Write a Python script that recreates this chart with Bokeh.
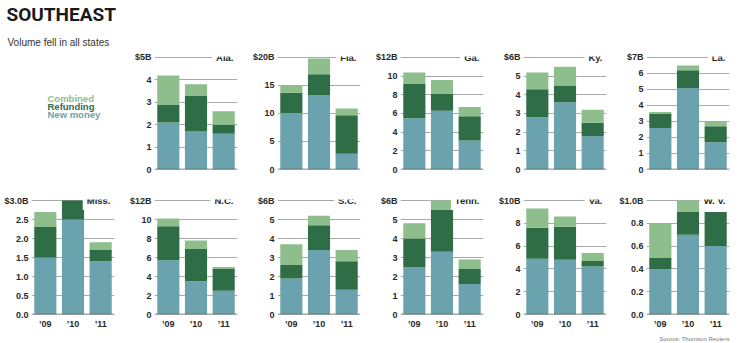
from bokeh.plotting import figure
from bokeh.models import (ColumnDataSource, FixedTicker, Label, Span, Range1d,
                          FactorRange, Title, PrintfTickFormatter)
from bokeh.layouts import row, column
from bokeh.embed import file_html
from bokeh.resources import INLINE

# ---------------- data ----------------
years = ["\u201909", "\u201910", "\u201911"]
series = ["new_money", "refunding", "combined"]
legend_labels = ["Combined", "Refunding", "New money"]

top_states = ["Ala.", "Fla.", "Ga.", "Ky.", "La."]
bottom_states = ["Miss.", "N.C.", "S.C.", "Tenn.", "Va.", "W. V."]

# $ billions, per year '09, '10, '11
new_money = {
    "Ala.": [2.1, 1.7, 1.6], "Fla.": [10.1, 13.3, 2.8], "Ga.": [5.5, 6.3, 3.1],
    "Ky.": [2.8, 3.6, 1.8], "La.": [2.6, 5.1, 1.7], "Miss.": [1.5, 2.5, 1.4],
    "N.C.": [5.7, 3.5, 2.5], "S.C.": [1.9, 3.4, 1.3], "Tenn.": [2.5, 3.3, 1.6],
    "Va.": [4.9, 4.8, 4.2], "W. V.": [0.4, 0.7, 0.6],
}
refunding = {
    "Ala.": [0.8, 1.6, 0.4], "Fla.": [3.6, 3.7, 6.9], "Ga.": [3.7, 1.8, 2.6],
    "Ky.": [1.5, 0.9, 0.7], "La.": [0.9, 1.1, 1.0], "Miss.": [0.8, 0.5, 0.3],
    "N.C.": [3.6, 3.4, 2.3], "S.C.": [0.7, 1.3, 1.5], "Tenn.": [1.5, 2.2, 0.8],
    "Va.": [2.7, 2.9, 0.5], "W. V.": [0.1, 0.2, 0.3],
}
combined = {
    "Ala.": [1.3, 0.5, 0.6], "Fla.": [1.3, 2.8, 1.2], "Ga.": [1.2, 1.5, 1.0],
    "Ky.": [0.9, 1.0, 0.7], "La.": [0.1, 0.3, 0.3], "Miss.": [0.4, 0.0, 0.2],
    "N.C.": [0.8, 0.9, 0.2], "S.C.": [1.1, 0.5, 0.6], "Tenn.": [0.8, 0.5, 0.5],
    "Va.": [1.7, 0.9, 0.7], "W. V.": [0.3, 0.1, 0.0],
}
axis_max = {"Ala.": 5, "Fla.": 20, "Ga.": 12, "Ky.": 6, "La.": 7, "Miss.": 3.0,
            "N.C.": 12, "S.C.": 6, "Tenn.": 6, "Va.": 10, "W. V.": 1.0}
tick_step = {"Ala.": 1, "Fla.": 5, "Ga.": 2, "Ky.": 1, "La.": 1, "Miss.": 0.5,
             "N.C.": 2, "S.C.": 1, "Tenn.": 1, "Va.": 2, "W. V.": 0.2}
top_label = {"Ala.": "$5B", "Fla.": "$20B", "Ga.": "$12B", "Ky.": "$6B", "La.": "$7B",
             "Miss.": "$3.0B", "N.C.": "$12B", "S.C.": "$6B", "Tenn.": "$6B",
             "Va.": "$10B", "W. V.": "$1.0B"}
decimals = {"Miss.": 1, "W. V.": 1}

# ---------------- style ----------------
FONT = "Liberation Sans"
HEAD_FONT = "Roboto"
C_NEW, C_REF, C_COMB = "#6aa2ae", "#2e6d45", "#8ebe8b"
colors = [C_NEW, C_REF, C_COMB]
GRID = "#aaaaaa"
COLW = 123
B_L, B_R = 31, 9
TOP_T, TOP_B = 54, 6
BOT_T, BOT_B = 24, 29
FRAME_H = 115
TOP_H = TOP_T + FRAME_H + TOP_B
BOT_H = BOT_T + FRAME_H + BOT_B


def make_panel(state, bottom):
    src = ColumnDataSource(dict(year=years, new_money=new_money[state],
                                refunding=refunding[state], combined=combined[state]))
    ymax = axis_max[state]
    step = tick_step[state]
    n = int(round(ymax / step))
    ticks = [round(i * step, 4) for i in range(n + 1)]
    p = figure(x_range=FactorRange(factors=years, range_padding=0),
               y_range=Range1d(0, ymax * (1 + 1.0 / (FRAME_H - 1))),
               width=COLW, height=(BOT_H if bottom else TOP_H),
               min_border_left=B_L, min_border_right=B_R,
               min_border_top=(BOT_T if bottom else TOP_T),
               min_border_bottom=(BOT_B if bottom else TOP_B),
               toolbar_location=None, output_backend="svg")
    p.outline_line_color = None
    p.xgrid.visible = False
    p.ygrid.ticker = FixedTicker(ticks=ticks)
    p.ygrid.grid_line_color = GRID
    p.ygrid.grid_line_width = 1.2

    p.vbar_stack(series, x="year", width=0.8, color=colors, line_color=None, source=src)

    p.add_layout(Span(location=0, dimension="width", line_color="#555555", line_width=1.5))

    ya = p.yaxis[0]
    ya.ticker = FixedTicker(ticks=ticks)
    ya.formatter = PrintfTickFormatter(format="%%.%df" % decimals.get(state, 0))
    ya.major_label_overrides = {ticks[-1]: top_label[state]}
    ya.axis_line_color = None
    ya.major_tick_line_color = None
    ya.minor_tick_line_color = None
    ya.major_tick_out = 0
    ya.major_tick_in = 0
    ya.minor_tick_out = 0
    ya.minor_tick_in = 0
    ya.major_label_standoff = 3
    ya.major_label_text_font = FONT
    ya.major_label_text_font_style = "bold"
    ya.major_label_text_font_size = "9px"
    ya.major_label_text_color = "#2a2a2a"

    xa = p.xaxis[0]
    if bottom:
        xa.axis_line_color = None
        xa.major_tick_line_color = None
        xa.minor_tick_line_color = None
        xa.major_tick_out = 0
        xa.major_tick_in = 0
        xa.minor_tick_out = 0
        xa.minor_tick_in = 0
        xa.major_label_standoff = 4
        xa.major_label_text_font = FONT
        xa.major_label_text_font_style = "bold"
        xa.major_label_text_font_size = "9px"
        xa.major_label_text_color = "#2a2a2a"
    else:
        xa.visible = False

    p.add_layout(Label(x=3, y=ymax, text=state, text_align="right", text_baseline="middle",
                       text_font=FONT, text_font_style="bold", text_font_size="9.5px",
                       text_color="#2a2a2a", background_fill_color="white",
                       padding=4))
    return p


# ---------------- header / legend cell ----------------
# ranges chosen so that data units equal canvas pixels (origin top-left)
head = figure(width=COLW, height=TOP_H,
              x_range=Range1d(B_L, COLW - B_R),
              y_range=Range1d(TOP_T + FRAME_H, TOP_T),
              min_border_left=B_L, min_border_right=B_R,
              min_border_top=TOP_T, min_border_bottom=TOP_B,
              toolbar_location=None, output_backend="svg")
head.axis.visible = False
head.grid.visible = False
head.outline_line_color = None

# main title in the figure's own title slot (outermost); subtitle added below it
head.title.text = "SOUTHEAST"
head.title.align = "left"
head.title.offset = -(B_L - 6)
head.title.standoff = 0
head.title.text_font = HEAD_FONT
head.title.text_font_style = "bold"
head.title.text_font_size = "19px"
head.title.text_color = "#1a1a1a"
head.add_layout(Title(text="Volume fell in all states", align="left",
                      offset=-(B_L - 7), standoff=18,
                      text_font=FONT, text_font_style="normal",
                      text_font_size="10px", text_color="#333333"), "above")

leg_colors = [C_COMB, C_REF, C_NEW]
leg_y = [96.5, 105, 113.5]
for lab, col, yy in zip(legend_labels, leg_colors, leg_y):
    head.add_layout(Label(x=47, y=yy, text=lab, text_font=FONT, text_font_style="bold",
                          text_font_size="9.5px", text_color=col,
                          text_baseline="alphabetic"))

top_row = [head] + [make_panel(s, False) for s in top_states]
bot_row = [make_panel(s, True) for s in bottom_states]

bot_row[-1].add_layout(Title(text="Source: Thomson Reuters", align="right",
                             text_font=FONT, text_font_style="normal",
                             text_font_size="6px", text_color="#777777",
                             standoff=4), "below")

layout = column(row(*top_row), row(*bot_row))

open("out.html", "w").write(file_html(layout, INLINE))
